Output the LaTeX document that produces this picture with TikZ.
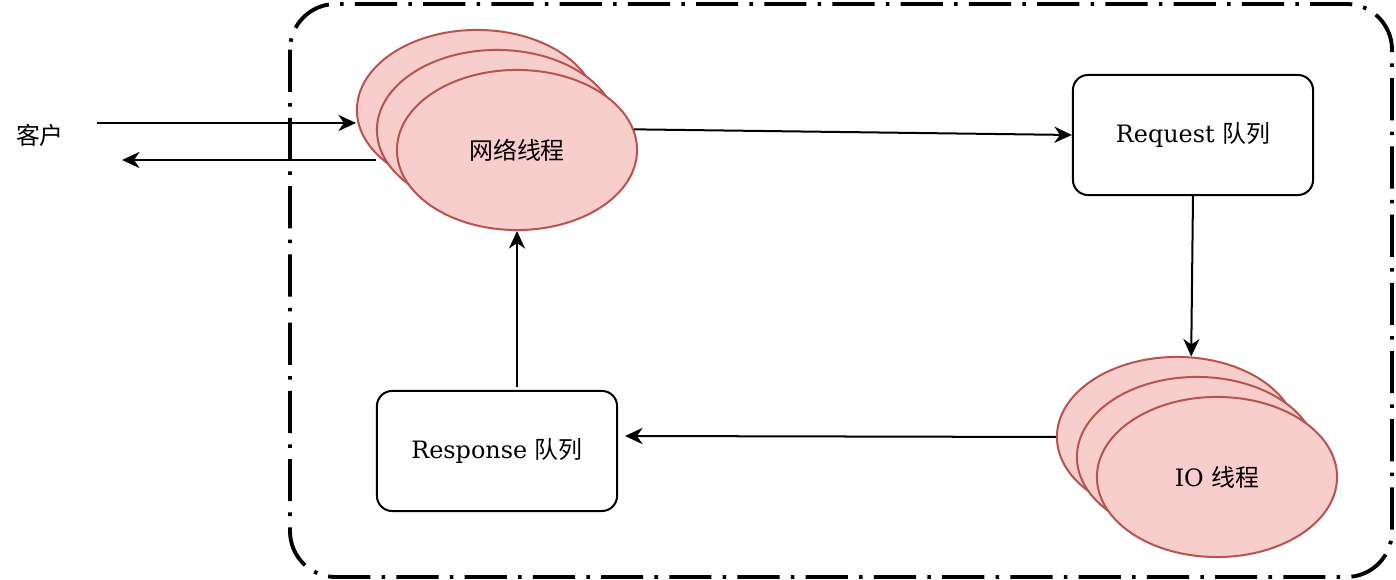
\documentclass[tikz,border=0pt]{standalone}
\usepackage{fontspec}
\setmainfont{DejaVu Serif}
\newfontfamily\cjk{Noto Sans CJK SC}
\usetikzlibrary{shapes.geometric,arrows.meta}
\definecolor{threadfill}{HTML}{F8CECC}
\definecolor{threadline}{HTML}{B85450}

\begin{document}
\begin{tikzpicture}[x=0.01cm,y=-0.01cm,
  font=\fontsize{6.8pt}{8pt}\selectfont,
  thread/.style={ellipse,draw=threadline,fill=threadfill,line width=0.57pt,minimum width=2.4cm,minimum height=1.6cm,inner sep=0pt},
  queue/.style={draw,rounded corners=4.3pt,line width=0.57pt,minimum width=2.4cm,minimum height=1.2cm,inner sep=0pt},
  arr/.style={-{Stealth[length=5pt,width=4.6pt,inset=1.6pt]},line width=0.57pt},
  frame/.style={line width=1.1pt,rounded corners=13pt,dash pattern=on 12pt off 3.2pt on 1pt off 3.2pt}]
\useasboundingbox (0,0) rectangle (1396,580);
\draw[frame] (290,4) rectangle (1392,577);
% client side
\node (client) at (40,135) {\cjk 客户};
\coordinate (cin) at (97,123);
\coordinate (cout) at (122,160);
% network threads
\node[thread] (net1) at (477,110) {};
\node[thread] (net2) at (497,130) {};
\node[thread] (net3) at (517,150) {\cjk 网络线程};
% queues
\node[queue] (req) at (1193,135) {Request {\cjk 队列}};
\node[queue] (resp) at (497,451) {Response {\cjk 队列}};
% io threads
\node[thread] (io1) at (1177,437) {};
\node[thread] (io2) at (1197,457) {};
\node[thread] (io3) at (1217,477) {IO {\cjk 线程}};
\coordinate (rin) at (625,436);
\coordinate (rout) at (517,387);
% connectors
\draw[arr] (cin) -- (cin -| net1.west);
\draw[arr] (cout -| net2.west) -- (cout);
\draw[arr] (net3.10) -- (req.west);
\draw[arr] (req.south) -- (io1.80);
\draw[arr] (io1.west) -- (rin);
\draw[arr] (rout) -- (net3.south);
\end{tikzpicture}
\end{document}
